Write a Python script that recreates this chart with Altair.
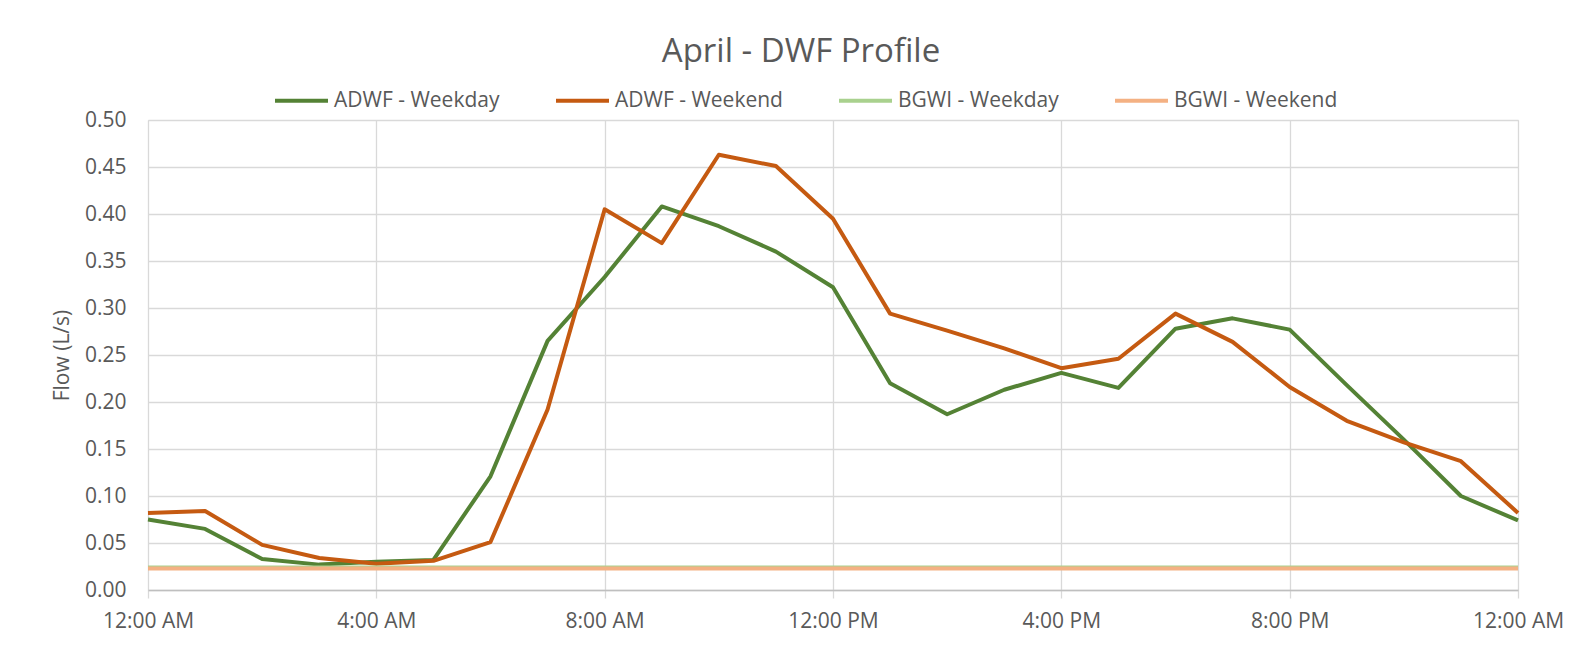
import altair as alt
import pandas as pd

# ---- data ----
hours = list(range(25))
adwf_weekday = [0.075, 0.065, 0.033, 0.027, 0.030, 0.032, 0.121, 0.265, 0.333, 0.408,
                0.387, 0.360, 0.322, 0.220, 0.187, 0.213, 0.231, 0.215, 0.278, 0.289,
                0.277, 0.218, 0.160, 0.100, 0.074]
adwf_weekend = [0.082, 0.084, 0.048, 0.034, 0.028, 0.031, 0.051, 0.192, 0.405, 0.369,
                0.463, 0.451, 0.395, 0.294, 0.276, 0.257, 0.236, 0.246, 0.294, 0.264,
                0.216, 0.180, 0.157, 0.137, 0.082]
bgwi_weekday = [0.024, 0.024, 0.024, 0.024, 0.024, 0.024, 0.024, 0.024, 0.024, 0.024,
                0.024, 0.024, 0.024, 0.024, 0.024, 0.024, 0.024, 0.024, 0.024, 0.024,
                0.024, 0.024, 0.024, 0.024, 0.024]
bgwi_weekend = [0.023, 0.023, 0.023, 0.023, 0.023, 0.023, 0.023, 0.023, 0.023, 0.023,
                0.023, 0.023, 0.023, 0.023, 0.023, 0.023, 0.023, 0.023, 0.023, 0.023,
                0.023, 0.023, 0.023, 0.023, 0.023]

series_names = ["ADWF - Weekday", "ADWF - Weekend", "BGWI - Weekday", "BGWI - Weekend"]
series_colors = ["#548235", "#C55A11", "#A9D18E", "#F4B183"]
series_widths = [4, 4, 4.5, 4.5]

x_tick_values = [0, 4, 8, 12, 16, 20, 24]
x_tick_labels = ["12:00 AM", "4:00 AM", "8:00 AM", "12:00 PM", "4:00 PM", "8:00 PM", "12:00 AM"]
y_tick_values = [0.0, 0.05, 0.10, 0.15, 0.20, 0.25, 0.30, 0.35, 0.40, 0.45, 0.50]

rows = []
for name, vals in zip(series_names, [adwf_weekday, adwf_weekend, bgwi_weekday, bgwi_weekend]):
    for h, v in zip(hours, vals):
        rows.append({"series": name, "hour": h, "flow": v})
df = pd.DataFrame(rows)

FONT = "Open Sans"
TXT = "#595959"
GRID = "#d9d9d9"

label_array = "[" + ",".join("'" + s + "'" for s in x_tick_labels) + "]"

chart = alt.Chart(df).mark_line(strokeJoin="round").encode(
    x=alt.X("hour:Q",
            scale=alt.Scale(domain=[0, 24], nice=False, zero=True),
            axis=alt.Axis(values=x_tick_values, labelExpr=label_array + "[datum.value/4]",
                          title=None, grid=True, gridColor=GRID, gridWidth=1.3,
                          ticks=True, tickSize=8, tickColor=GRID, tickWidth=1.3,
                          domain=True, domainColor="#bfbfbf", domainWidth=1.5,
                          labelFontSize=21, labelColor=TXT, labelFont=FONT,
                          labelPadding=12, labelFlush=False)),
    y=alt.Y("flow:Q",
            scale=alt.Scale(domain=[0, 0.5], nice=False),
            axis=alt.Axis(values=y_tick_values, format=".2f", title="Flow (L/s)",
                          grid=True, gridColor=GRID, gridWidth=1.3,
                          ticks=False, domain=False,
                          labelFontSize=21, labelColor=TXT, labelFont=FONT, labelPadding=22,
                          titleFontSize=21, titleColor=TXT, titleFont=FONT,
                          titleFontWeight="normal", titlePadding=12)),
    color=alt.Color("series:N",
                    scale=alt.Scale(domain=series_names, range=series_colors),
                    legend=alt.Legend(orient="none", legendX=125, legendY=-48,
                                      direction="horizontal", title=None,
                                      symbolType="stroke", symbolSize=2809,
                                      symbolStrokeWidth=4, labelFontSize=21,
                                      labelColor=TXT, labelFont=FONT, labelOffset=4,
                                      columnPadding=48, padding=0, labelLimit=400)),
    strokeWidth=alt.StrokeWidth("series:N",
                                scale=alt.Scale(domain=series_names, range=series_widths),
                                legend=None),
).properties(
    width=1370,
    height=470,
    autosize=alt.AutoSizeParams(type="none"),
    padding={"left": 140, "top": 112, "right": 52, "bottom": 61},
    title=alt.TitleParams("April - DWF Profile", fontSize=33, color=TXT, font=FONT,
                          fontWeight="normal", anchor="middle", dx=-32, offset=3),
).configure_view(strokeWidth=0).configure(background="white")

chart.save("out.html", embed_options={"renderer": "svg", "actions": False})
